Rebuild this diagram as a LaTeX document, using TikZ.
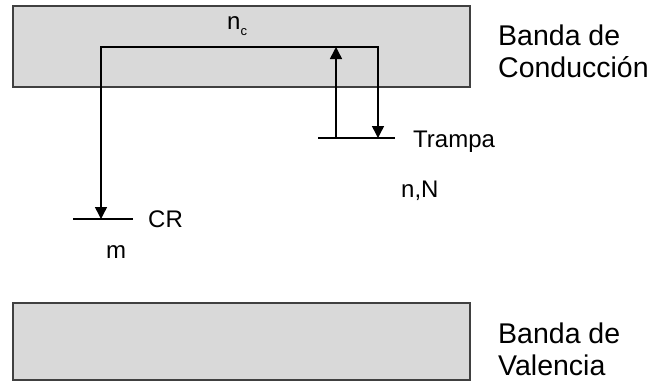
\documentclass[tikz,border=0pt]{standalone}
\usepackage{fontspec}
\setmainfont{Liberation Sans}
\usetikzlibrary{arrows.meta}
\begin{document}
\begin{tikzpicture}[
  x=1pt,
  y=-1pt,
  band/.style={
    draw=black!75,
    fill=black!15,
    line width=1.8pt,
    minimum width=457pt,
    minimum height=81pt,
    inner sep=0pt
  },
  bandlabel/.style={
    anchor=base west,
    align=left,
    inner sep=0pt,
    font=\fontsize{28.5}{32}\selectfont
  },
  lbl/.style={anchor=base west, inner sep=0pt, font=\fontsize{24}{28}\selectfont},
  level/.style={line width=1.5pt},
  arrow/.style={line width=1.5pt, -{Triangle[width=12pt,length=12pt]}},
  twoarrow/.style={line width=1.5pt, {Triangle[width=12pt,length=12pt]}-{Triangle[width=12pt,length=12pt]}}
]
\useasboundingbox (0,0) rectangle (654,383);

\node[band] (cb) at (241.5,46.5) {};
\node[band, minimum height=77pt] (vb) at (241.5,341.5) {};
\node[bandlabel] (cblabel) at (498,77) {Banda de\\Conducción};
\node[bandlabel] (vblabel) at (498,375) {Banda de\\Valencia};
\node[lbl] (nc) at (227,29) {n\raisebox{-6pt}{\fontsize{13}{13}\selectfont c}};

\coordinate (trapL) at (318,138);
\coordinate (trapR) at (395,138);
\coordinate (trapin) at (378,138);
\coordinate (trapout) at (336,138);
\coordinate (crL) at (73,219);
\coordinate (crR) at (133,219);
\coordinate (cr) at (101,219);
\coordinate (top) at (378,47);

\draw[level] (trapL) -- (trapR);
\draw[level] (crL) -- (crR);
\draw[twoarrow] (cr) |- (top) -- (trapin);
\draw[arrow] (trapout) -- (trapout |- top);

\node[lbl] (trampa) at (413,147) {Trampa};
\node[lbl] (nN) at (401,197) {n,N};
\node[lbl] (crtext) at (148,227) {CR};
\node[lbl, anchor=base] (m) at (116,258) {m};
\end{tikzpicture}
\end{document}
